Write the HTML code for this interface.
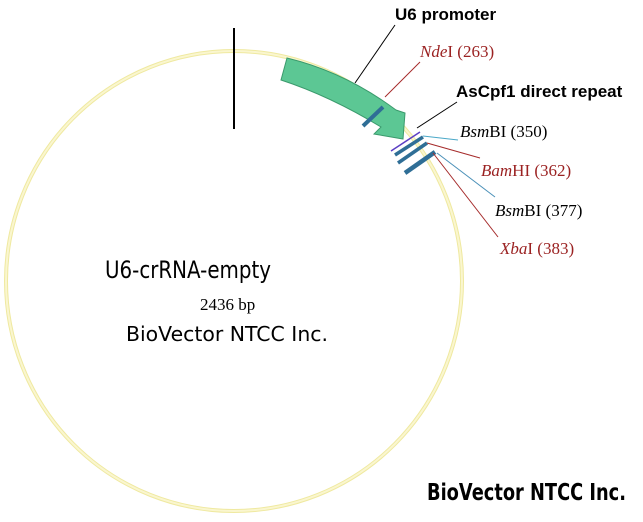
<!DOCTYPE html>
<html><head><style>html,body{margin:0;padding:0;background:#fff}svg{display:block}</style></head>
<body>
<svg width="643" height="522" viewBox="0 0 643 522" xmlns="http://www.w3.org/2000/svg">
<ellipse cx="234" cy="281" rx="228" ry="230" fill="none" stroke="#efe9a0" stroke-width="4"/>
<ellipse cx="234" cy="281" rx="228" ry="230" fill="none" stroke="#faf6cf" stroke-width="2"/>
<line x1="234" y1="28" x2="234" y2="129" stroke="#000" stroke-width="2"/>
<path d="M287,58 Q345,72 396,110 L405,113 L403,139 L374,134 L381,127 Q330,96 281,80 Z" fill="#5cc794" stroke="#3a9a6c" stroke-width="1"/>
<line x1="363" y1="126" x2="383" y2="107" stroke="#2f6e96" stroke-width="4"/>
<line x1="355" y1="83" x2="395" y2="25" stroke="#000" stroke-width="1"/>
<line x1="385" y1="97" x2="420" y2="62" stroke="#a52a2a" stroke-width="1"/>
<line x1="417" y1="128" x2="457" y2="102" stroke="#000" stroke-width="1"/>
<line x1="391" y1="151" x2="420" y2="132" stroke="#5b3fc4" stroke-width="1.5"/>
<line x1="395" y1="155" x2="423" y2="137" stroke="#2f6e96" stroke-width="3.5"/>
<line x1="398" y1="163" x2="427" y2="143" stroke="#2f6e96" stroke-width="3.5"/>
<line x1="405" y1="173" x2="435" y2="152" stroke="#2f6e96" stroke-width="4.5"/>
<line x1="423" y1="136" x2="458" y2="140" stroke="#4aa8c8" stroke-width="1"/>
<line x1="427" y1="143" x2="480" y2="158" stroke="#a52a2a" stroke-width="1"/>
<line x1="437" y1="153" x2="495" y2="197" stroke="#4a90b8" stroke-width="1"/>
<line x1="433" y1="153" x2="498" y2="237" stroke="#a52a2a" stroke-width="1"/>
<g font-family="Liberation Sans, sans-serif" font-weight="bold" font-size="17" fill="#000">
<text x="395" y="20">U6 promoter</text>
<text x="456" y="97">AsCpf1 direct repeat</text>
</g>
<g font-family="Liberation Serif, serif" font-size="17">
<text x="420" y="57" fill="#9b2222"><tspan font-style="italic">Nde</tspan>I (263)</text>
<text x="460" y="137" fill="#000"><tspan font-style="italic">Bsm</tspan>BI (350)</text>
<text x="481" y="176" fill="#9b2222"><tspan font-style="italic">Bam</tspan>HI (362)</text>
<text x="495" y="216" fill="#000"><tspan font-style="italic">Bsm</tspan>BI (377)</text>
<text x="500" y="254" fill="#9b2222"><tspan font-style="italic">Xba</tspan>I (383)</text>
<text x="200" y="310" font-size="17" fill="#000">2436 bp</text>
</g>
<text x="105" y="278" font-family="DejaVu Sans, sans-serif" font-size="24" fill="#000" textLength="166" lengthAdjust="spacingAndGlyphs">U6-crRNA-empty</text>
<text x="126" y="341" font-family="DejaVu Sans, sans-serif" font-size="20" fill="#000" textLength="202" lengthAdjust="spacingAndGlyphs">BioVector NTCC Inc.</text>
<text x="427" y="500" font-family="DejaVu Sans, sans-serif" font-weight="bold" font-size="23" fill="#000" textLength="199" lengthAdjust="spacingAndGlyphs">BioVector NTCC Inc.</text>
</svg>
</body></html>
